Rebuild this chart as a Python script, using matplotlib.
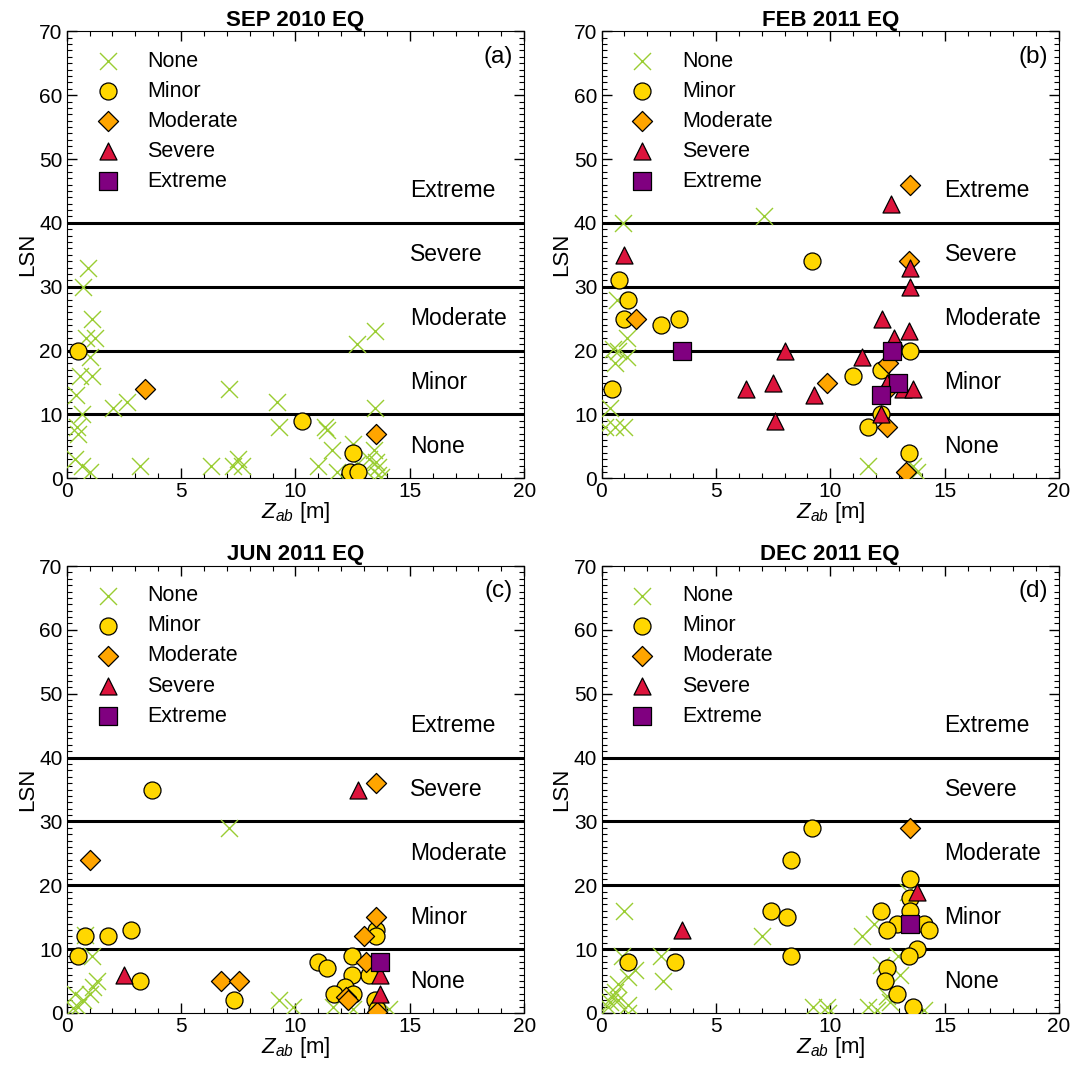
import matplotlib.pyplot as plt
from matplotlib.ticker import MultipleLocator
import numpy as np

plt.rcParams['font.family'] = ['Liberation Sans', 'DejaVu Sans']
plt.rcParams['mathtext.fontset'] = 'custom'
plt.rcParams['mathtext.it'] = 'Liberation Sans:italic'
plt.rcParams['mathtext.rm'] = 'Liberation Sans'

# (Z_ab [m], LSN) pairs per observed damage class

# SEP 2010
sep_none = [(0.94, 33), (0.70, 30), (1.12, 25), (0.84, 22), (1.24, 22), (1.02, 19),
            (0.58, 16), (1.09, 16), (0.41, 13), (0.66, 10), (0.44, 8), (0.51, 7),
            (0.36, 3), (0.66, 2), (1.02, 1), (2.04, 11), (2.62, 12), (3.2, 2),
            (7.1, 14), (6.31, 2), (7.28, 2), (7.5, 3), (7.65, 2), (9.21, 12), (9.3, 8),
            (13.48, 23), (12.68, 21), (13.48, 11), (11.4, 7.5), (11.3, 8), (10.97, 2),
            (11.6, 4.4), (11.8, 1), (12.5, 5.4), (12.7, 2.3), (13.06, 1.3), (13.2, 3.1),
            (13.42, 4.4), (13.5, 2.6), (13.6, 1.8), (13.6, 0.5), (13.75, 0.2)]
sep_minor = [(0.51, 20), (10.3, 9), (12.5, 4), (12.39, 1), (12.72, 1)]
sep_moderate = [(3.42, 14), (13.51, 7)]
sep_severe = []
sep_extreme = []

# FEB 2011
feb_none = [(0.95, 40), (7.1, 41), (0.66, 28), (1.1, 22), (0.52, 20.3), (0.73, 20),
            (1.1, 19), (0.59, 18), (0.37, 11), (0.15, 8), (0.59, 8), (1.0, 8),
            (11.67, 2), (13.63, 2), (13.78, 1)]
feb_minor = [(0.78, 31), (1.17, 28), (1.0, 25), (2.6, 24), (3.4, 25), (0.47, 14),
             (9.19, 34), (13.49, 20), (12.2, 17), (11.0, 16), (12.2, 10), (11.67, 8),
             (13.46, 4)]
feb_moderate = [(1.51, 25), (9.87, 15), (13.49, 46), (13.46, 34), (12.51, 18),
                (12.54, 14), (12.5, 8), (13.3, 1)]
feb_severe = [(1.0, 35), (6.3, 14), (7.49, 15), (7.59, 9), (8.0, 20), (9.3, 13),
              (12.66, 43), (13.49, 33), (13.49, 30), (12.28, 25), (13.46, 23), (12.8, 22),
              (11.38, 19), (12.46, 15), (13.2, 14), (13.63, 14), (12.2, 10)]
feb_extreme = [(3.5, 20), (12.69, 20), (12.98, 15), (12.2, 13)]

# JUN 2011
jun_none = [(7.1, 29), (0.8, 12.2), (1.09, 9), (1.31, 5), (1.16, 4), (1.02, 3),
            (0.36, 3), (0.73, 2), (0.51, 1), (0.29, 0.8), (9.3, 2), (9.9, 1),
            (11.66, 1), (12.53, 0.7), (14.1, 0.7)]
jun_minor = [(3.72, 35), (0.8, 12), (1.82, 12), (2.81, 13), (0.51, 9), (3.2, 5),
             (7.31, 2), (13.51, 13), (13.51, 12), (11.0, 8), (11.4, 7), (12.49, 9),
             (13.22, 6), (12.49, 6), (12.17, 4), (11.7, 3), (12.53, 3), (13.48, 2),
             (13.55, 0.6)]
jun_moderate = [(1.02, 24), (6.73, 5), (7.53, 5), (13.51, 36), (13.51, 15), (13.0, 12),
                (13.07, 8), (12.2, 2.5), (12.31, 2), (13.58, 0.2)]
jun_severe = [(2.52, 6), (12.72, 35), (13.7, 6), (13.7, 3)]
jun_extreme = [(13.7, 8)]

# DEC 2011
dec_none = [(1.0, 16), (7.0, 12), (0.88, 9), (2.6, 9), (2.7, 5), (1.46, 6.7),
            (1.17, 5.7), (0.73, 4.6), (0.59, 3.3), (0.45, 2.5), (0.37, 1.8), (0.73, 2),
            (1.17, 1.3), (0.3, 1), (1.17, 0), (9.26, 1), (9.9, 0), (11.38, 12),
            (11.9, 14), (12.2, 7.5), (12.97, 9), (13.04, 6), (12.47, 2.6), (12.6, 1.8),
            (11.67, 1), (12.03, 0.5), (14.1, 0.5), (9.85, 1), (13.4, 19)]
dec_minor = [(9.19, 29), (8.29, 24), (7.4, 16), (8.1, 15), (8.29, 9), (1.17, 8),
             (3.21, 8), (13.49, 21), (13.49, 18), (13.49, 16), (12.2, 16), (12.93, 14),
             (14.1, 14), (14.3, 13), (12.5, 13), (13.78, 10), (13.46, 9), (12.5, 7),
             (12.39, 5), (12.9, 3), (13.6, 1)]
dec_moderate = [(13.49, 29)]
dec_severe = [(3.5, 13), (13.78, 19)]
dec_extreme = [(13.49, 14)]

titles = ['SEP 2010 EQ', 'FEB 2011 EQ', 'JUN 2011 EQ', 'DEC 2011 EQ']
tags = ['(a)', '(b)', '(c)', '(d)']
panels = [
    [sep_none, sep_minor, sep_moderate, sep_severe, sep_extreme],
    [feb_none, feb_minor, feb_moderate, feb_severe, feb_extreme],
    [jun_none, jun_minor, jun_moderate, jun_severe, jun_extreme],
    [dec_none, dec_minor, dec_moderate, dec_severe, dec_extreme],
]
classes = ['None', 'Minor', 'Moderate', 'Severe', 'Extreme']
zones = [5, 15, 25, 35, 45]
bounds = [10, 20, 30, 40]

# marker styles per class
styles = [
    dict(marker='x', color='#9ACD32', s=150, linewidths=1.0),
    dict(marker='o', facecolor='#FFD700', edgecolor='black', s=150, linewidths=0.9),
    dict(marker='D', facecolor='#FFA500', edgecolor='black', s=105, linewidths=0.9),
    dict(marker='^', facecolor='#DC143C', edgecolor='black', s=150, linewidths=0.9),
    dict(marker='s', facecolor='#800080', edgecolor='black', s=150, linewidths=0.9),
]

fig = plt.figure(figsize=(10.76, 10.67), dpi=100)
W, H = 1076.0, 1067.0
lefts = [66.7, 601.5]
bottoms = [478.3, 1013.0]
pw, ph = 457.5, 447.0

for k in range(4):
    r, c = k // 2, k % 2
    ax = fig.add_axes([lefts[c] / W, 1 - bottoms[r] / H, pw / W, ph / H])
    for b in bounds:
        ax.axhline(b, color='black', lw=2.2, zorder=1)
    for j, pts in enumerate(panels[k]):
        pts = np.array(pts) if len(pts) else np.empty((0, 2))
        ax.scatter(pts[:, 0], pts[:, 1], label=classes[j], zorder=3 + j, **styles[j])
    for name, yz in zip(classes, zones):
        ax.text(15.0, yz, name, fontsize=16.5, va='center', ha='left')
    ax.text(0.975, 0.968, tags[k], transform=ax.transAxes, fontsize=17.5,
            ha='right', va='top')
    ax.set_xlim(0, 20)
    ax.set_ylim(0, 70)
    ax.xaxis.set_major_locator(MultipleLocator(5))
    ax.xaxis.set_minor_locator(MultipleLocator(1))
    ax.yaxis.set_major_locator(MultipleLocator(10))
    ax.yaxis.set_minor_locator(MultipleLocator(1))
    ax.tick_params(which='both', direction='in', top=True, right=True, labelsize=15)
    ax.tick_params(which='major', length=7, width=1, pad=3)
    ax.tick_params(which='minor', length=3.5, width=0.8)
    ax.set_title(titles[k], fontsize=16, fontweight='bold', pad=4)
    ax.set_xlabel(r'$Z_{ab}$ [m]', fontsize=16, labelpad=-1)
    ax.set_ylabel('LSN', fontsize=16, labelpad=1)
    ax.legend(loc='upper left', frameon=False, fontsize=15.5, handletextpad=0.83,
              labelspacing=0.42, borderaxespad=0.5, scatterpoints=1,
              bbox_to_anchor=(0.0, 1.0))

fig.savefig('out.png', dpi=100)
